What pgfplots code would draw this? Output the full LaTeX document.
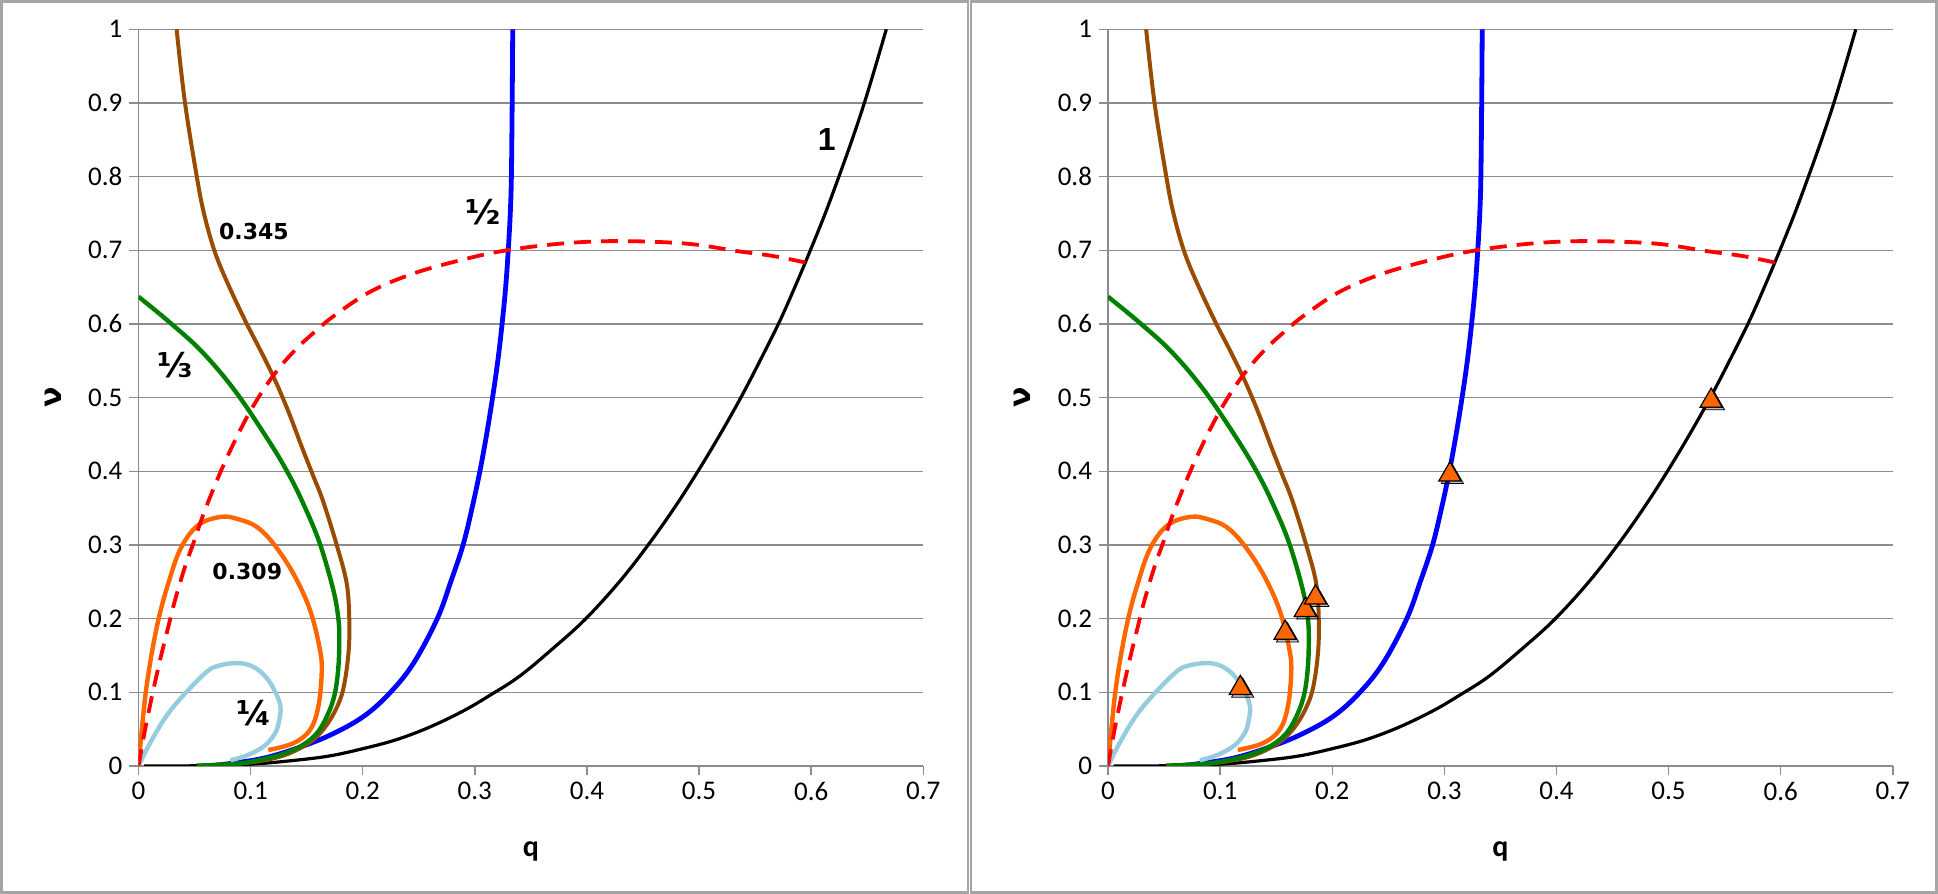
\documentclass[border=0pt]{standalone}
\usepackage{fontspec}
\usepackage{pgfplots}
\usepackage{pgfplotstable}
\pgfplotsset{compat=1.18}
\setmainfont{Carlito}
\newfontfamily\lblfont{DejaVu Sans}
\newfontfamily\onefont{Liberation Sans}
\definecolor{gridc}{RGB}{140,140,140}
\definecolor{bordc}{RGB}{165,165,165}
\definecolor{cbrown}{RGB}{153,76,0}
\definecolor{cgreen}{RGB}{0,128,0}
\definecolor{cblue}{RGB}{0,0,255}
\definecolor{corange}{RGB}{255,102,0}
\definecolor{clblue}{RGB}{150,204,222}
\definecolor{cred}{RGB}{255,0,0}

\pgfplotstableread{
q nu
0.005 0
0.05 0.0003
0.1 0.0025
0.14 0.0078
0.171 0.0138
0.2 0.0235
0.23 0.0357
0.26 0.053
0.29 0.075
0.3135 0.096
0.34 0.122
0.37 0.16
0.399 0.2
0.43 0.252
0.457 0.305
0.48 0.355
0.501 0.405
0.521 0.456
0.539 0.505
0.556 0.555
0.572 0.604
0.586 0.652
0.599 0.699
0.612 0.748
0.624 0.797
0.636 0.848
0.647 0.898
0.657 0.948
0.667 1.0
}\blackdata

\pgfplotstableread{
q nu
0.06 0
0.08 0.003
0.111 0.0104
0.141 0.024
0.171 0.042
0.2005 0.067
0.2244 0.0995
0.2455 0.14
0.2665 0.2
0.2785 0.25
0.2895 0.3
0.2975 0.35
0.3045 0.4
0.3105 0.45
0.3158 0.5
0.3205 0.55
0.3243 0.6
0.3275 0.65
0.3298 0.7
0.3316 0.75
0.3326 0.8
0.3333 0.9
0.3338 1.0
}\bluedata

\pgfplotstableread{
q nu
0.034 1.0
0.0415 0.9
0.052 0.8
0.0584 0.75
0.0676 0.7
0.0787 0.658
0.095 0.605
0.1085 0.565
0.1218 0.5237
0.134 0.48
0.1456 0.4333
0.1555 0.395
0.1645 0.36
0.1768 0.3
0.1857 0.248
0.188 0.1995
0.1875 0.1574
0.1842 0.1166
0.1797 0.0896
0.1708 0.0624
0.159 0.0398
0.144 0.024
0.1262 0.0127
0.105 0.006
0.08 0.0022
0.052 0.0005
}\browndata

\pgfplotstableread{
q nu
0 0.637
0.0268 0.6035
0.0565 0.5625
0.0862 0.509
0.1158 0.4423
0.1336 0.397
0.147 0.356
0.1615 0.303
0.1738 0.2388
0.1783 0.1995
0.1791 0.171
0.1783 0.1347
0.1753 0.0995
0.1693 0.0715
0.159 0.0443
0.144 0.0262
0.1262 0.015
0.1084 0.0081
0.0905 0.0035
0.07 0.0015
0.052 0.0005
}\greendata

\pgfplotstableread{
q nu
0 0
0.003 0.05
0.0065 0.1
0.0115 0.15
0.018 0.2
0.026 0.245
0.0375 0.295
0.0533 0.327
0.0742 0.3383
0.09 0.3345
0.1054 0.3247
0.1203 0.302
0.138 0.2615
0.153 0.2117
0.1619 0.1574
0.1634 0.1257
0.1604 0.0805
0.153 0.0488
0.138 0.0308
0.1158 0.0217
}\orangedata

\pgfplotstableread{
q nu
0 0
0.0118 0.0353
0.0266 0.0715
0.0444 0.1031
0.0622 0.1295
0.0725 0.1365
0.0846 0.1395
0.0954 0.1385
0.1054 0.132
0.114 0.12
0.1205 0.105
0.1255 0.088
0.1268 0.076
0.1255 0.062
0.1233 0.0488
0.118 0.036
0.1113 0.0262
0.1 0.0165
0.09 0.011
0.082 0.0078
}\lbluedata

\pgfplotstableread{
q nu
0 0
0.0058 0.0488
0.0132 0.1031
0.0207 0.153
0.0266 0.189
0.0326 0.2252
0.0415 0.2705
0.0489 0.3021
0.0593 0.3474
0.0772 0.413
0.098 0.477
0.1188 0.527
0.1396 0.5645
0.1604 0.5935
0.1753 0.612
0.2065 0.6436
0.2452 0.6685
0.2897 0.6875
0.3285 0.700
0.38 0.7095
0.4295 0.7125
0.489 0.709
0.5336 0.699
0.567 0.692
0.596 0.683
}\reddata

\pgfplotstableread{
q nu
0.118 0.11
0.158 0.185
0.176 0.216
0.185 0.233
0.305 0.4
0.538 0.5
}\markdata

\pgfplotsset{panel/.style={
  scale only axis, width=392.4pt, height=368.35pt,
  anchor=south west,
  xmin=0, xmax=0.7, ymin=0, ymax=1,
  xtick={0,0.1,0.2,0.3,0.4,0.5,0.6,0.7},
  ytick={0,0.1,0.2,0.3,0.4,0.5,0.6,0.7,0.8,0.9,1},
  axis x line*=bottom, axis y line*=left,
  axis line style={draw=gridc, line width=0.7pt},
  tick align=outside, major tick length=4.5pt,
  tick style={draw=gridc, line width=0.7pt},
  ymajorgrids, grid style={draw=gridc, line width=0.7pt},
  tick label style={font=\fontsize{13.5}{14}\selectfont},
  /pgf/number format/assume math mode=true,
  xlabel={\fontsize{15}{16}\selectfont\bfseries q},
  ylabel={\fontsize{15}{16}\selectfont\lblfont\bfseries ν},
  every axis x label/.style={at={(axis description cs:0.5,-0.1163)},anchor=center},
  every axis y label/.style={at={(axis description cs:-0.109,0.5)},rotate=90,anchor=center},
}}

\newcommand{\allcurves}{%
  \addplot[black, line width=1.6pt, smooth, tension=0.6] table {\blackdata};
  \addplot[cblue, line width=2.4pt, smooth, tension=0.6] table {\bluedata};
  \addplot[cbrown, line width=2pt, smooth, tension=0.6] table {\browndata};
  \addplot[cgreen, line width=2.2pt, smooth, tension=0.6] table {\greendata};
  \addplot[corange, line width=2.2pt, smooth, tension=0.6] table {\orangedata};
  \addplot[clblue, line width=2.2pt, smooth, tension=0.6] table {\lbluedata};
  \addplot[cred, line width=1.9pt, smooth, tension=0.6, dash pattern=on 8.5pt off 5pt] table {\reddata};
}

\begin{document}
\begin{tikzpicture}[x=1pt,y=1pt]
\useasboundingbox (0,0) rectangle (969,447);
\draw[bordc, line width=1.4pt] (0.7,0.7) rectangle (484,446.3);
\draw[bordc, line width=1.4pt] (485.5,0.7) rectangle (968.3,446.3);

\begin{axis}[panel, at={(69.25pt,64pt)}]
\allcurves
\node[font=\lblfont\bfseries\fontsize{11}{12}\selectfont] at (axis cs:0.103,0.725) {0.345};
\node[font=\lblfont\bfseries\fontsize{11}{12}\selectfont] at (axis cs:0.097,0.2637) {0.309};
\node[font=\lblfont\bfseries\fontsize{17}{18}\selectfont] at (axis cs:0.3076,0.752) {½};
\node[font=\lblfont\bfseries\fontsize{17}{18}\selectfont] at (axis cs:0.0326,0.544) {⅓};
\node[font=\lblfont\bfseries\fontsize{17}{18}\selectfont] at (axis cs:0.103,0.0715) {¼};
\node[font=\onefont\bfseries\fontsize{16}{17}\selectfont] at (axis cs:0.614,0.850) {1};
\end{axis}

\begin{axis}[panel, at={(554pt,64pt)}]
\allcurves
\addplot[only marks, mark=triangle*, mark size=6.4pt,
  mark options={fill=black, fill opacity=0.25, draw=none, xshift=1.2pt, yshift=-2.9pt}] table {\markdata};
\addplot[only marks, mark=triangle*, mark size=6.4pt,
  mark options={fill=corange, draw=black, line width=0.6pt, yshift=-1.6pt}] table {\markdata};
\end{axis}
\end{tikzpicture}
\end{document}
